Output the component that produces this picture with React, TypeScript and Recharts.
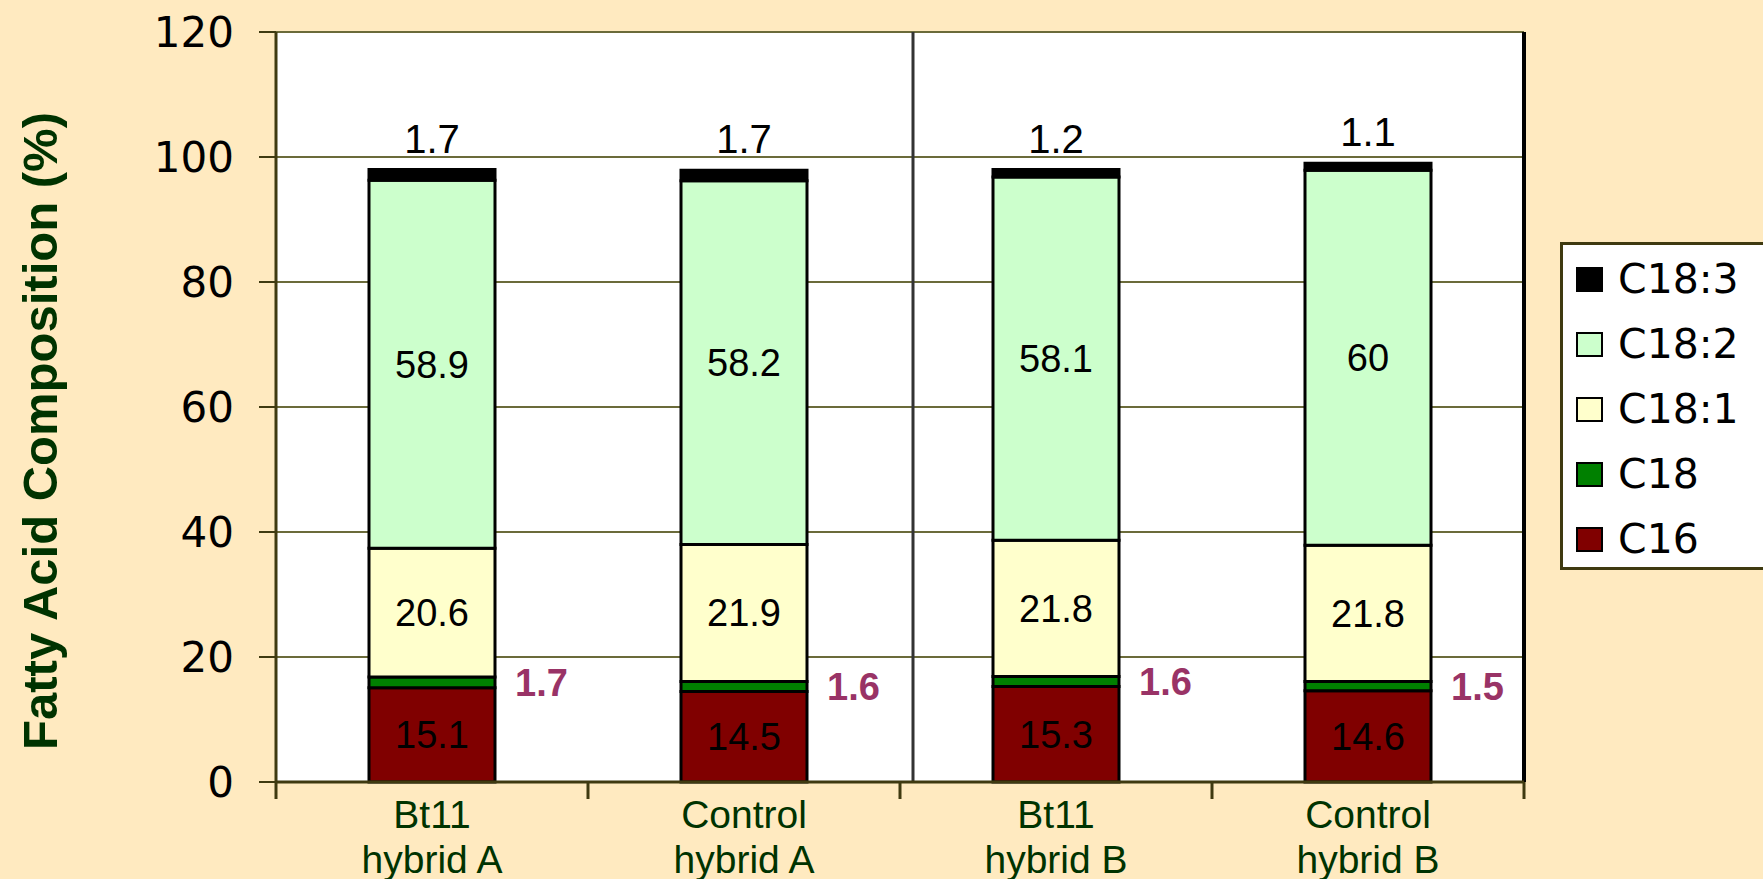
import { BarChart, Bar, XAxis, YAxis, CartesianGrid, LabelList, Legend, ReferenceLine } from "recharts";

const categoryTop = ["Bt11", "Control", "Bt11", "Control"];
const categoryBottom = ["hybrid A", "hybrid A", "hybrid B", "hybrid B"];

const c16 = [15.1, 14.5, 15.3, 14.6];
const c18 = [1.7, 1.6, 1.6, 1.5];
const c181 = [20.6, 21.9, 21.8, 21.8];
const c182 = [58.9, 58.2, 58.1, 60];
const c183 = [1.7, 1.7, 1.2, 1.1];

const yTicks = [0, 20, 40, 60, 80, 100, 120];

const series = [
  { key: "c16", name: "C16", color: "#800000" },
  { key: "c18", name: "C18", color: "#008000" },
  { key: "c181", name: "C18:1", color: "#FFFFCC" },
  { key: "c182", name: "C18:2", color: "#CCFFCC" },
  { key: "c183", name: "C18:3", color: "#000000" },
];

const data = categoryTop.map((top, i) => ({
  name: `${top} ${categoryBottom[i]}`,
  c16: c16[i],
  c18: c18[i],
  c181: c181[i],
  c182: c182[i],
  c183: c183[i],
}));

const FONT = '"Liberation Sans", Arial, sans-serif';
const WIDE_FONT = '"DejaVu Sans", "Liberation Sans", sans-serif';
const BG = "#FFEAC0";
const AXIS = "#3f3a10";
const GRID = "#6b6b3a";
const LABEL_GREEN = "#003300";

function CategoryTick(props: any) {
  const { x, y, payload, index, visibleTicksCount } = props;
  const half = payload?.offset ?? 0;
  return (
    <g>
      <line x1={x - half} x2={x - half} y1={y} y2={y + 17} stroke={AXIS} strokeWidth={3} />
      {index === visibleTicksCount - 1 && (
        <line x1={x + half} x2={x + half} y1={y} y2={y + 17} stroke={AXIS} strokeWidth={3} />
      )}
      <text x={x} y={y + 45.5} textAnchor="middle" fill={LABEL_GREEN} fontSize={39} fontFamily={FONT}>
        {categoryTop[index]}
      </text>
      <text x={x} y={y + 90.5} textAnchor="middle" fill={LABEL_GREEN} fontSize={39} fontFamily={FONT}>
        {categoryBottom[index]}
      </text>
    </g>
  );
}

const renderYTitle = (props: any) => {
  const vb = props.viewBox;
  const cx = vb.x + 40;
  const cy = vb.y + vb.height / 2 + 24;
  return (
    <text
      x={cx}
      y={cy}
      transform={`rotate(-90 ${cx} ${cy})`}
      textAnchor="middle"
      dominantBaseline="central"
      fill={LABEL_GREEN}
      fontSize={49}
      fontWeight="bold"
      fontFamily={FONT}
    >
      Fatty Acid Composition (%)
    </text>
  );
};

const separatorShape = (p: any) => (
  <line x1={p.x1 + 13} x2={p.x2 + 13} y1={p.y1} y2={p.y2} stroke="#333" strokeWidth={3} />
);

const renderLegend = () => (
  <div
    style={{
      boxSizing: "border-box",
      width: 203,
      height: 328,
      background: "#fff",
      border: `3px solid ${AXIS}`,
      borderRight: "none",
      paddingTop: 2,
      fontFamily: WIDE_FONT,
    }}
  >
    {[...series].reverse().map((s) => (
      <div key={s.key} style={{ height: 65, display: "flex", alignItems: "center" }}>
        <span
          style={{
            display: "inline-block",
            boxSizing: "border-box",
            width: 27,
            height: 25,
            background: s.color,
            border: "2px solid #000",
            marginLeft: 13,
            marginRight: 15,
          }}
        />
        <span style={{ fontSize: 41, color: "#000", lineHeight: 1 }}>{s.name}</span>
      </div>
    ))}
  </div>
);

export default function App() {
  return (
    <div style={{ position: "absolute", left: 0, top: 0, width: 1763, height: 879, background: BG }}>
      <BarChart width={1763} height={879} data={data} margin={{ top: 32, right: 239, bottom: 0, left: 0 }}>
        <CartesianGrid vertical={false} stroke={GRID} strokeWidth={2} fill="#fff" fillOpacity={1} />
        <XAxis
          dataKey="name"
          height={97}
          tickSize={0}
          tickMargin={0}
          tickLine={false}
          axisLine={{ stroke: AXIS, strokeWidth: 3 }}
          tick={<CategoryTick />}
          interval={0}
        />
        <YAxis
          width={276}
          domain={[0, 120]}
          ticks={yTicks}
          interval={0}
          tickSize={17}
          tickMargin={25}
          tickLine={{ stroke: AXIS, strokeWidth: 2 }}
          axisLine={{ stroke: AXIS, strokeWidth: 3 }}
          tick={{ fill: "#000", fontSize: 42, fontFamily: WIDE_FONT }}
          label={renderYTitle}
        />
        <ReferenceLine x={data[1].name} position="end" shape={separatorShape} />
        <ReferenceLine x={data[3].name} position="end" stroke="#000" strokeWidth={4} />
        <Legend
          layout="vertical"
          align="center"
          verticalAlign="middle"
          content={renderLegend}
          wrapperStyle={{ position: "absolute", left: 1560, top: 242, width: 203 }}
        />
        {series.map((s) => (
          <Bar
            key={s.key}
            dataKey={s.key}
            name={s.name}
            stackId="a"
            fill={s.color}
            stroke="#000"
            strokeWidth={3}
            barSize={126}
            isAnimationActive={false}
          >
            {s.key === "c18" ? (
              <LabelList dataKey={s.key} position="right" offset={20} fill="#993366" fontSize={38} fontWeight="bold" fontFamily={FONT} />
            ) : s.key === "c183" ? (
              <LabelList dataKey={s.key} position="top" offset={17} fill="#000" fontSize={40} fontFamily={FONT} />
            ) : (
              <LabelList dataKey={s.key} position="center" fill="#000" fontSize={38} fontFamily={FONT} />
            )}
          </Bar>
        ))}
      </BarChart>
    </div>
  );
}
